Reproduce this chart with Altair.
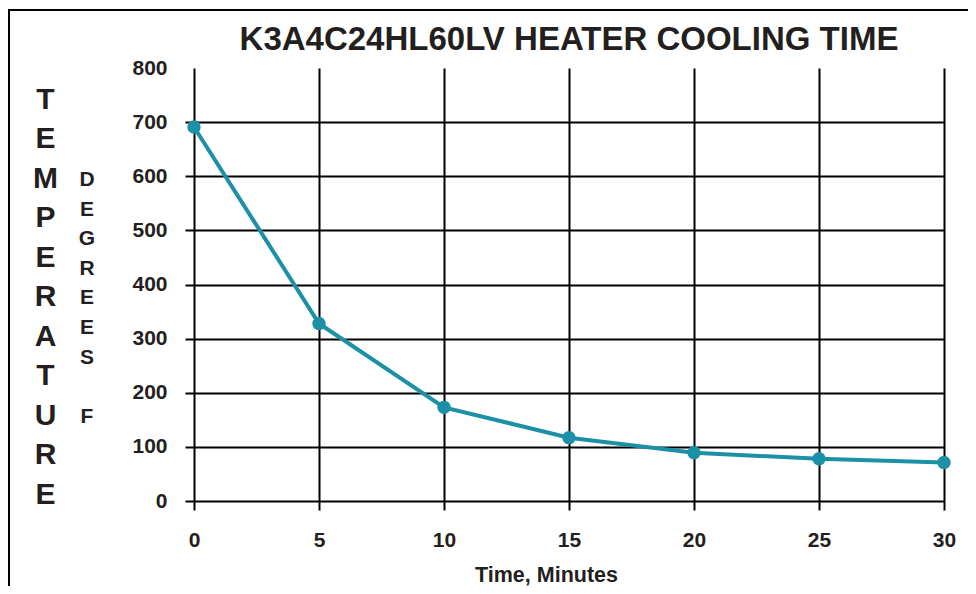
import altair as alt
import pandas as pd

minutes = [0, 5, 10, 15, 20, 25, 30]
temps = [691, 328, 173, 117, 89, 78, 71]
y_ticks = [0, 100, 200, 300, 400, 500, 600, 700, 800]
x_ticks = [0, 5, 10, 15, 20, 25, 30]
title_text = "K3A4C24HL60LV HEATER COOLING TIME"
y_title_main = "TEMPERATURE"
y_title_sub1 = "DEGREES"
y_title_sub2 = "F"
x_title = "Time, Minutes"

FONT = "Liberation Sans"
INK = "#231f20"
TEAL = "#1b90a6"
SUB_LH = 29.6

df = pd.DataFrame({"minutes": minutes, "temp": temps})
one = pd.DataFrame({"a": [0]})

x_enc = alt.X(
    "minutes:Q",
    scale=alt.Scale(domain=[0, 30], nice=False, zero=False),
    axis=alt.Axis(
        values=x_ticks, grid=True, domain=False, gridColor="#000000", gridWidth=2,
        gridOpacity=1, tickColor="#000000", tickWidth=2, tickSize=9,
        labelFont=FONT, labelFontSize=21, labelFontWeight="bold", labelColor=INK,
        labelPadding=19, labelFlush=False,
        title=x_title, titleFont=FONT, titleFontSize=21.5,
        titleFontWeight="bold", titleColor=INK, titleX=352, titleY=80,
        titleAlign="center", titleBaseline="alphabetic",
    ),
)
y_enc = alt.Y(
    "temp:Q",
    scale=alt.Scale(domain=[0, 800], nice=False),
    axis=alt.Axis(
        values=y_ticks, grid=True, domain=False, gridColor="#000000", gridWidth=2,
        gridOpacity={"condition": {"test": "datum.value === 800", "value": 0}, "value": 1},
        tickOpacity={"condition": {"test": "datum.value === 800", "value": 0}, "value": 1},
        tickColor="#000000", tickWidth=2, tickSize=9,
        labelFont=FONT, labelFontSize=21, labelFontWeight="bold", labelColor=INK,
        labelPadding=18, labelFlush=False,
        title=list(y_title_main), titleFont=FONT, titleFontSize=30,
        titleFontWeight="bold", titleColor=INK, titleAngle=0, titleX=-149, titleY=40,
        titleAlign="center", titleBaseline="alphabetic", titleLineHeight=39.5,
    ),
)

line = alt.Chart(df).mark_line(color=TEAL, strokeWidth=4).encode(x=x_enc, y=y_enc)
pts = alt.Chart(df).mark_point(filled=True, color=TEAL, size=180, opacity=1).encode(
    x="minutes:Q", y="temp:Q"
)

sub_style = dict(font=FONT, fontSize=21, fontWeight="bold", color=INK, align="center",
                 baseline="alphabetic", lineHeight=SUB_LH)
sub1 = alt.Chart(one).mark_text(
    text="\n".join(list(y_title_sub1)), lineBreak="\n", **sub_style
).encode(x=alt.value(-107), y=alt.value(118))
sub2 = alt.Chart(one).mark_text(text=y_title_sub2, **sub_style).encode(
    x=alt.value(-107), y=alt.value(118 + 8 * SUB_LH)
)

border = alt.Chart(one).mark_rect(fill=None, stroke="#000000", strokeWidth=2).encode(
    x=alt.value(-185), y=alt.value(-58), x2=alt.value(900), y2=alt.value(700)
)

chart = alt.layer(border, line, pts, sub1, sub2).properties(
    width=750, height=433,
    title=alt.TitleParams(
        title_text, font=FONT, fontSize=33, fontWeight="bold", color=INK,
        anchor="middle", frame="group", baseline="alphabetic", offset=0, dy=74,
    ),
    autosize=alt.AutoSizeParams(type="none"),
    padding={"left": 186, "top": 60, "right": 24, "bottom": 85},
).configure_view(stroke=None)

chart.save("out.html", embed_options={"renderer": "svg", "actions": False})
